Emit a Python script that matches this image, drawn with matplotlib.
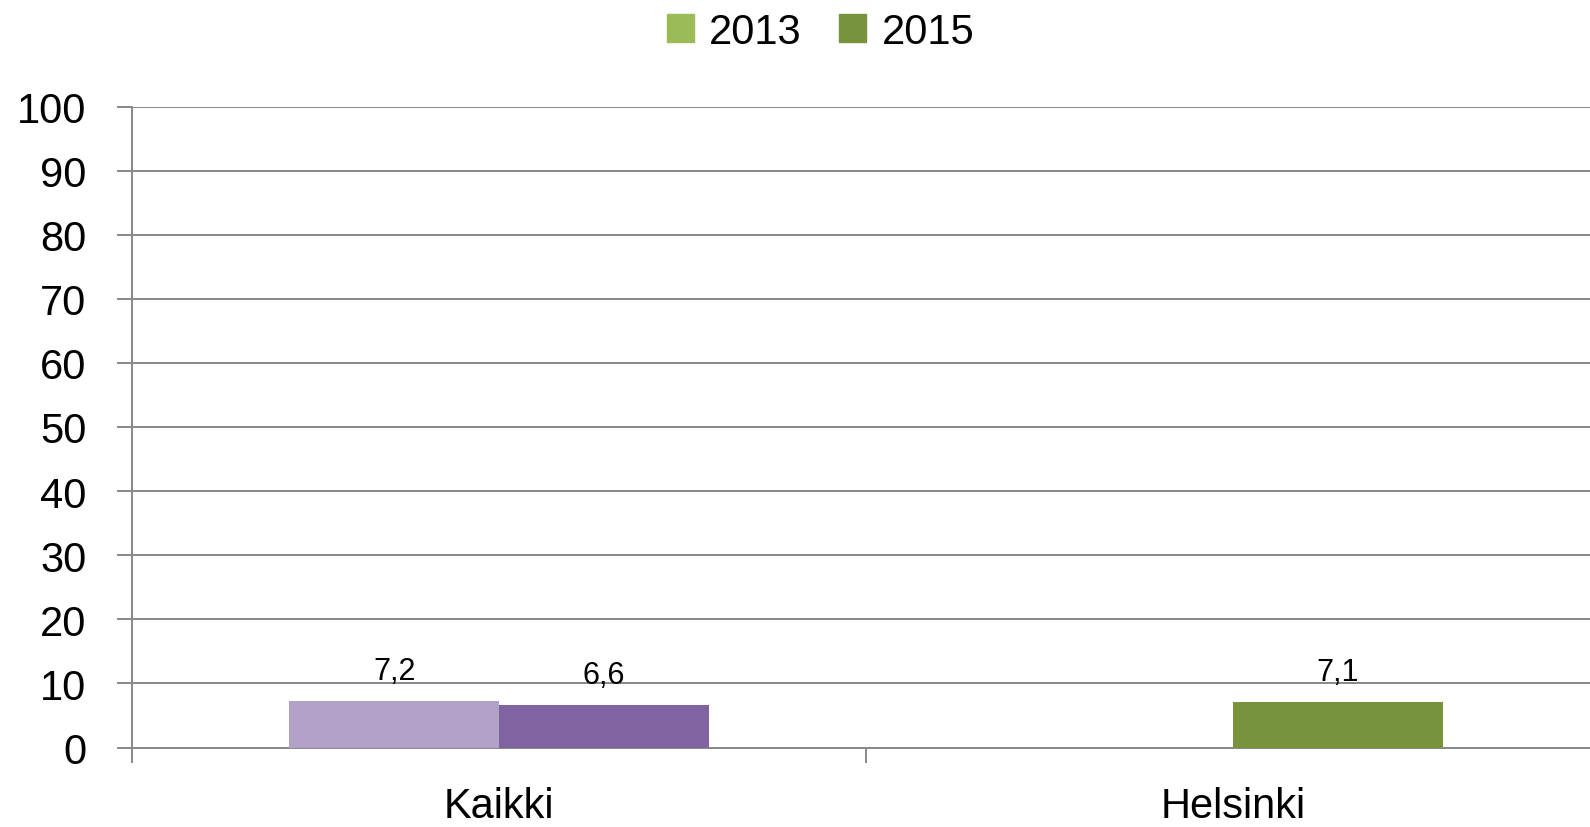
import numpy as np
import matplotlib
matplotlib.use('Agg')
import matplotlib.pyplot as plt
from matplotlib.patches import Patch

plt.rcParams['font.family'] = ['Liberation Sans', 'DejaVu Sans']

# data
categories = ['Kaikki', 'Helsinki']
years = ['2013', '2015']
v2013 = [7.2, np.nan]
v2015 = [6.6, 7.1]

# colours: Kaikki bars are purple, Helsinki bars green (legend shows green)
col_2013 = ['#B2A2C7', '#9BBB59']
col_2015 = ['#8064A2', '#77933C']
legend_cols = ['#9BBB59', '#77933C']
grid_col = '#888888'

fig = plt.figure(figsize=(15.9, 8.28), dpi=100)
ax = fig.add_axes([132/1590, 79.5/828, 1468/1590, 641/828])

x = np.arange(len(categories))
w = 1/3.5
ax.bar(x - w/2, v2013, w, color=col_2013, zorder=3)
ax.bar(x + w/2, v2015, w, color=col_2015, zorder=3)

for xs, vals in [(x - w/2, v2013), (x + w/2, v2015)]:
    for xi, v in zip(xs, vals):
        if np.isnan(v):
            continue
        ax.annotate(f'{v:.1f}'.replace('.', ','), (xi, v), xytext=(0, 16),
                    textcoords='offset points', ha='center', va='baseline',
                    fontsize=22, color='black')

ax.set_xlim(-0.5, 1.5)
ax.set_ylim(0, 100)
ax.set_yticks(np.arange(0, 101, 10))
ax.yaxis.grid(True, color=grid_col, linewidth=1.4, zorder=0)
ax.set_axisbelow(True)

ax.set_xticks(x)
ax.set_xticklabels(categories)
ax.set_xticks([-0.5, 0.5, 1.5], minor=True)
ax.tick_params(axis='x', which='major', length=0, pad=28, labelsize=30)
ax.tick_params(axis='x', which='minor', length=10.8, width=1.4, color=grid_col)
ax.tick_params(axis='y', length=10.8, width=1.4, color=grid_col, pad=22, labelsize=30)

for s in ['top', 'right']:
    ax.spines[s].set_visible(False)
for s in ['left', 'bottom']:
    ax.spines[s].set_color(grid_col)
    ax.spines[s].set_linewidth(1.4)

handles = [Patch(color=c, label=l) for c, l in zip(legend_cols, years)]
fig.legend(handles=handles, loc='upper center', bbox_to_anchor=(0.516, 1.03),
           ncol=2, frameon=False, fontsize=30, handlelength=0.65, handleheight=0.65,
           handletextpad=0.37, columnspacing=0.9)

fig.savefig('out.png', dpi=100)
